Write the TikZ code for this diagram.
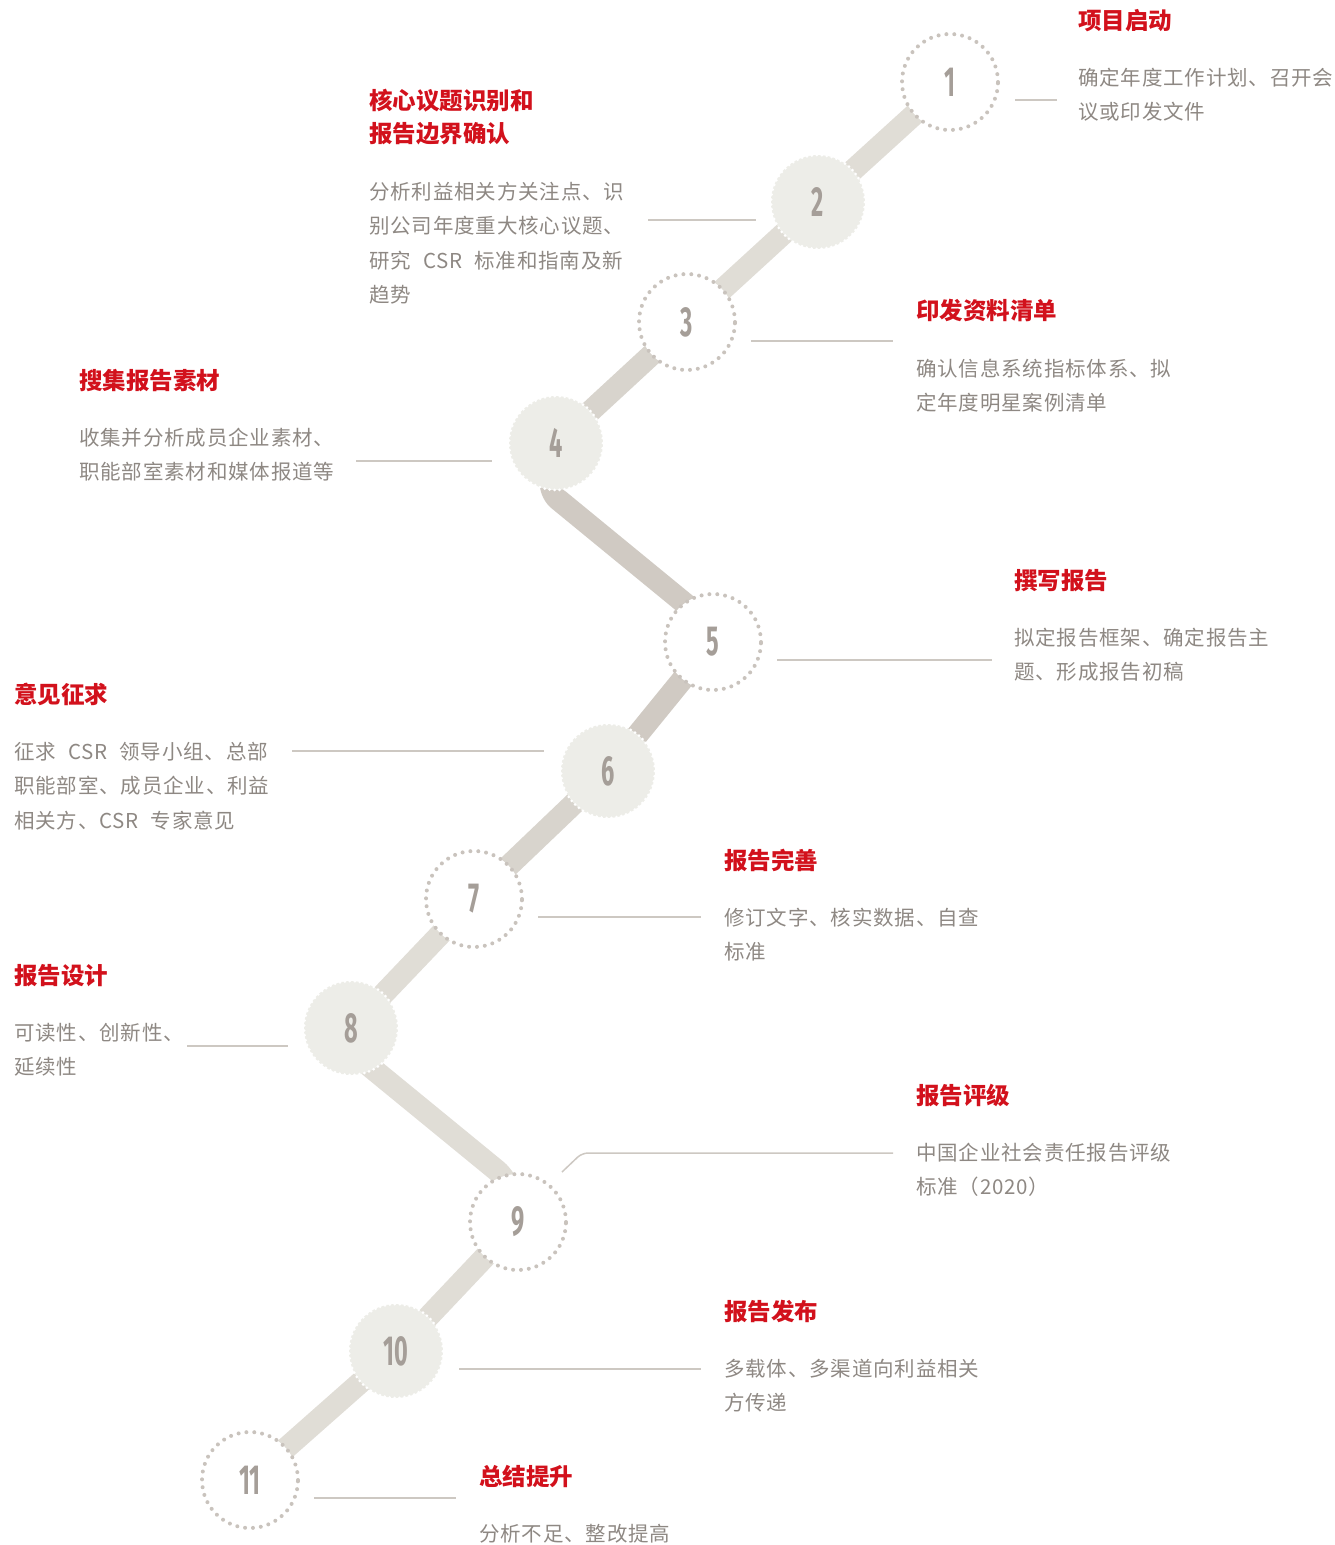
\documentclass[tikz,border=0pt]{standalone}
\usepackage{fontspec}
\setmainfont{Noto Sans CJK SC}
\newfontfamily\cjkbody[LetterSpace=4]{Noto Sans CJK SC}
\newfontfamily\cjktitle{Noto Sans CJK SC}
\newfontfamily\numfont[FakeStretch=0.56]{Fira Sans}
\usetikzlibrary{backgrounds}
\definecolor{bandL}{HTML}{E0DDD6}
\definecolor{bandM}{HTML}{D8D4CD}
\definecolor{bandD}{HTML}{D0CAC3}
\definecolor{fillcol}{HTML}{EDEDE8}
\definecolor{dotc}{HTML}{C9C3BD}
\definecolor{numc}{HTML}{A59E98}
\definecolor{titlec}{HTML}{D2111C}
\definecolor{bodyc}{HTML}{8E8883}
\definecolor{leadc}{HTML}{CDC8C2}
\newcommand\lin[1]{\hbox{#1}}
\newcommand\gap{\hskip 12pt}
\newcommand\blk[1]{\vtop{\baselineskip=34.6pt #1}}
\newcommand\tblk[1]{\vtop{\baselineskip=33pt #1}}
\tikzset{
  openc/.style={circle, minimum size=96pt, inner sep=0pt, fill=white, draw=dotc,
    line width=4pt, dash pattern=on 0pt off 7.9pt, line cap=round,
    font=\numfont\bfseries\fontsize{42}{42}\selectfont, text=numc},
  fillc/.style={circle, minimum size=94pt, inner sep=0pt, fill=fillcol, draw=white,
    line width=3pt, dash pattern=on 0pt off 5pt, line cap=round,
    font=\numfont\bfseries\fontsize{42}{42}\selectfont, text=numc},
  band/.style={line width=22pt, draw=bandL, line join=round},
  lead/.style={draw=leadc, line width=1.5pt},
  ttl/.style={anchor=base west, inner sep=0pt, text=titlec,
    font=\cjktitle\bfseries\fontsize{23.5}{33}\selectfont},
  bdy/.style={anchor=base west, inner sep=0pt, text=bodyc,
    font=\cjkbody\fontsize{20.5}{34.6}\selectfont},
}
\begin{document}
\begin{tikzpicture}[x=1pt,y=-1pt]
\useasboundingbox (0,0) rectangle (1334,1545);
% circles
\node[openc] (c1) at (950,82) {1};
\node[fillc] (c2) at (818,202) {2};
\node[openc] (c3) at (687,322) {3};
\node[fillc] (c4) at (556,443) {4};
\node[openc] (c5) at (713,642) {5};
\node[fillc] (c6) at (608,771) {6};
\node[openc] (c7) at (474,899) {7};
\node[fillc] (c8) at (351,1028) {8};
\node[openc] (c9) at (518,1222) {9};
\node[fillc] (c10) at (396,1351) {10};
\node[openc] (c11) at (250,1480) {11};
% bands
\begin{scope}[on background layer]
\draw[band] (c1.center) -- (c2.center);
\draw[band] (c2.center) -- (c3.center);
\draw[band, draw=bandM] (c3.center) -- (c4.center);
\draw[band, draw=bandD, rounded corners=12pt] (c4.center) -- ++(-7,49) -- (705,620) -- (c5.center);
\draw[band, draw=bandD] (c5.center) -- (c6.center);
\draw[band, draw=bandM] (c6.center) -- (c7.center);
\draw[band] (c7.center) -- (c8.center);
\draw[band, rounded corners=12pt] (c8.center) -- ++(11,32) -- (506,1178) -- (c9.center);
\draw[band] (c9.center) -- (c10.center);
\draw[band] (c10.center) -- (c11.center);
\end{scope}
% leader lines
\coordinate (a1) at (1015,100); \coordinate (e1) at (1057,100);
\coordinate (a2) at (648,220);  \coordinate (e2) at (756,220);
\coordinate (a3) at (751,341);  \coordinate (e3) at (893,341);
\coordinate (a4) at (356,461);  \coordinate (e4) at (492,461);
\coordinate (a5) at (777,660);  \coordinate (e5) at (992,660);
\coordinate (a6) at (292,751);  \coordinate (e6) at (544,751);
\coordinate (a7) at (538,917);  \coordinate (e7) at (701,917);
\coordinate (a8) at (187,1046); \coordinate (e8) at (288,1046);
\coordinate (a9) at (562,1172); \coordinate (k9) at (582,1153); \coordinate (e9) at (893,1153);
\coordinate (a10) at (459,1369); \coordinate (e10) at (701,1369);
\coordinate (a11) at (314,1498); \coordinate (e11) at (456,1498);
\draw[lead] (a1) -- (e1);
\draw[lead] (a2) -- (e2);
\draw[lead] (a3) -- (e3);
\draw[lead] (a4) -- (e4);
\draw[lead] (a5) -- (e5);
\draw[lead] (a6) -- (e6);
\draw[lead] (a7) -- (e7);
\draw[lead] (a8) -- (e8);
\draw[lead, rounded corners=6pt] (a9) -- (k9) -- (e9);
\draw[lead] (a10) -- (e10);
\draw[lead] (a11) -- (e11);
% texts
\node[ttl] (t1) at (1078,29) {项目启动};
\node[bdy] (b1) at (1078,85) {\blk{\lin{确定年度工作计划、召开会}\lin{议或印发文件}}};
\node[ttl] (t2) at (369,109) {\tblk{\lin{核心议题识别和}\lin{报告边界确认}}};
\node[bdy] (b2) at (369,199) {\blk{\lin{分析利益相关方关注点、识}\lin{别公司年度重大核心议题、}\lin{研究\gap CSR\gap 标准和指南及新}\lin{趋势}}};
\node[ttl] (t3) at (916,319) {印发资料清单};
\node[bdy] (b3) at (916,376) {\blk{\lin{确认信息系统指标体系、拟}\lin{定年度明星案例清单}}};
\node[ttl] (t4) at (79,389) {搜集报告素材};
\node[bdy] (b4) at (79,445) {\blk{\lin{收集并分析成员企业素材、}\lin{职能部室素材和媒体报道等}}};
\node[ttl] (t5) at (1014,589) {撰写报告};
\node[bdy] (b5) at (1014,645) {\blk{\lin{拟定报告框架、确定报告主}\lin{题、形成报告初稿}}};
\node[ttl] (t6) at (14,703) {意见征求};
\node[bdy] (b6) at (14,759) {\blk{\lin{征求\gap CSR\gap 领导小组、总部}\lin{职能部室、成员企业、利益}\lin{相关方、CSR\gap 专家意见}}};
\node[ttl] (t7) at (724,869) {报告完善};
\node[bdy] (b7) at (724,925) {\blk{\lin{修订文字、核实数据、自查}\lin{标准}}};
\node[ttl] (t8) at (14,984) {报告设计};
\node[bdy] (b8) at (14,1040) {\blk{\lin{可读性、创新性、}\lin{延续性}}};
\node[ttl] (t9) at (916,1104) {报告评级};
\node[bdy] (b9) at (916,1160) {\blk{\lin{中国企业社会责任报告评级}\lin{标准（2020）}}};
\node[ttl] (t10) at (724,1320) {报告发布};
\node[bdy] (b10) at (724,1376) {\blk{\lin{多载体、多渠道向利益相关}\lin{方传递}}};
\node[ttl] (t11) at (479,1485) {总结提升};
\node[bdy] (b11) at (479,1541) {分析不足、整改提高};
\end{tikzpicture}
\end{document}
